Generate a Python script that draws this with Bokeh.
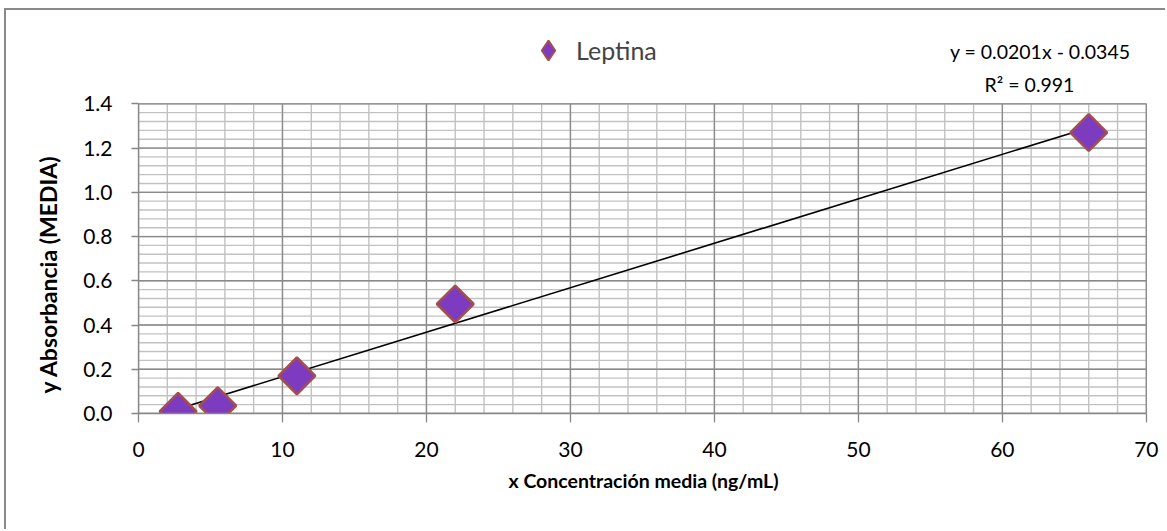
import math
from bokeh.plotting import figure
from bokeh.models import (Range1d, FixedTicker, NumeralTickFormatter,
                          Legend, LegendItem, Label, Title, ColumnDataSource)
from bokeh.embed import file_html
from bokeh.resources import INLINE

# ---- data ----
series_name = "Leptina"
conc = [2.75, 5.5, 11, 22, 66]
absorb = [0.01, 0.035, 0.17, 0.495, 1.27]
fit_slope = 0.0201
fit_intercept = -0.0345
fit_r2 = 0.991
x_title = "x Concentración media (ng/mL)"
y_title = "y Absorbancia (MEDIA)"
x_ticks = [0, 10, 20, 30, 40, 50, 60, 70]
y_ticks = [0.0, 0.2, 0.4, 0.6, 0.8, 1.0, 1.2, 1.4]
n_minor = 5

FONT = "Lato"
W, H = 1161, 521

x_lo, x_hi = x_ticks[0], x_ticks[-1]
y_lo, y_hi = y_ticks[0], y_ticks[-1]
px_per_y = 309.7 / (y_hi - y_lo)
frame_h = 403
y_top = y_lo + frame_h / px_per_y

p = figure(width=W, height=H, output_backend="svg", toolbar_location=None,
           x_range=Range1d(x_lo, x_hi + 0.15),
           y_range=Range1d(y_lo, y_top),
           min_border_left=132, min_border_right=19,
           min_border_top=0, min_border_bottom=H - frame_h,
           background_fill_color="white", border_fill_color="white")
p.styles = {"margin-left": "4px", "margin-top": "8px",
            "border-left": "2px solid #8a8a8a", "border-top": "2px solid #8a8a8a"}
p.outline_line_color = None
p.xgrid.visible = False
p.ygrid.visible = False

p.xaxis.ticker = FixedTicker(ticks=x_ticks)
p.yaxis.ticker = FixedTicker(ticks=y_ticks)
p.yaxis.formatter = NumeralTickFormatter(format="0.0")
p.xaxis.bounds = (x_lo, x_hi)
p.yaxis.bounds = (y_lo, y_hi)

for ax in (p.xaxis[0], p.yaxis[0]):
    ax.axis_line_color = "#868686"
    ax.axis_line_width = 1.3
    ax.major_tick_line_color = "#868686"
    ax.major_tick_line_width = 1.3
    ax.major_tick_in = 0
    ax.minor_tick_line_color = None
    ax.major_label_text_font = FONT
    ax.major_label_text_font_size = "21px"
    ax.major_label_text_color = "#000000"
    ax.axis_label_text_font = FONT
    ax.axis_label_text_font_style = "bold"
    ax.axis_label_text_color = "#000000"

p.xaxis.major_tick_out = 9
p.xaxis.major_label_standoff = 19
p.xaxis.axis_label = x_title
p.xaxis.axis_label_standoff = 9
p.xaxis.axis_label_text_font_size = "19.5px"
p.yaxis.major_tick_out = 7
p.yaxis.major_label_standoff = 19
# blank spacer label widens the axis panel a little
p.yaxis.axis_label = " "
p.yaxis.axis_label_text_font_size = "4px"
p.yaxis.axis_label_standoff = 5

# y title as a side title so it can be centred on the 0..1.4 span
ytitle = Title(text=y_title, align="left", offset=20, standoff=12,
               text_font=FONT, text_font_style="bold", text_font_size="23px",
               text_color="#000000")
p.add_layout(ytitle, "left")

# grid lines derived from the tick lists (limited to the plotting area)
dx = (x_ticks[1] - x_ticks[0]) / n_minor
dy = (y_ticks[1] - y_ticks[0]) / n_minor
x_minor = [x_lo + i * dx for i in range(int(round((x_hi - x_lo) / dx)) + 1)]
y_minor = [y_lo + i * dy for i in range(int(round((y_hi - y_lo) / dy)) + 1)]
minor_c, major_c = "#c2c2c2", "#8a8a8a"
p.segment(x0=x_minor, y0=[y_lo] * len(x_minor), x1=x_minor, y1=[y_hi] * len(x_minor),
          line_color=minor_c, line_width=1.4)
p.segment(x0=[x_lo] * len(y_minor), y0=y_minor, x1=[x_hi] * len(y_minor), y1=y_minor,
          line_color=minor_c, line_width=1.4)
p.segment(x0=x_ticks, y0=[y_lo] * len(x_ticks), x1=x_ticks, y1=[y_hi] * len(x_ticks),
          line_color=major_c, line_width=1.3)
p.segment(x0=[x_lo] * len(y_ticks), y0=y_ticks, x1=[x_hi] * len(y_ticks), y1=y_ticks,
          line_color=major_c, line_width=1.3)

# trendline from fit coefficients
tx = [min(conc), max(conc)]
ty = [fit_slope * v + fit_intercept for v in tx]
p.line(tx, ty, line_color="black", line_width=1.6)

MARK_FILL, MARK_LINE = "#7d3cbf", "#a44f4c"
src = ColumnDataSource(dict(x=conc, y=absorb))
pts = p.scatter("x", "y", source=src, marker="square", size=26, angle=math.pi / 4,
                fill_color=MARK_FILL, line_color=MARK_LINE, line_width=2.5)
# hidden twin used only to draw a diamond key in the legend
key = p.scatter("x", "y", source=src, marker="diamond", size=20,
                fill_color=MARK_FILL, line_color=MARK_LINE, line_width=2, visible=False)

legend = Legend(items=[LegendItem(label=series_name, renderers=[key])],
                location=(385, 338), orientation="horizontal", click_policy="none",
                glyph_width=50, glyph_height=50, padding=0, margin=0,
                label_standoff=3, background_fill_alpha=0, border_line_color=None,
                label_text_font=FONT, label_text_font_size="25px",
                label_text_baseline="middle")
p.add_layout(legend, "center")

eq_text = f"y = {fit_slope}x - {abs(fit_intercept)}"
r2_text = f"R² = {fit_r2}"
p.add_layout(Label(x=992, y=362, x_units="screen", y_units="screen", text=eq_text,
                   text_align="right", text_baseline="middle", text_font=FONT,
                   text_font_size="19.5px", text_color="black"))
p.add_layout(Label(x=891, y=329, x_units="screen", y_units="screen", text=r2_text,
                   text_align="center", text_baseline="middle", text_font=FONT,
                   text_font_size="19.5px", text_color="black"))

open("out.html", "w").write(file_html(p, INLINE))
